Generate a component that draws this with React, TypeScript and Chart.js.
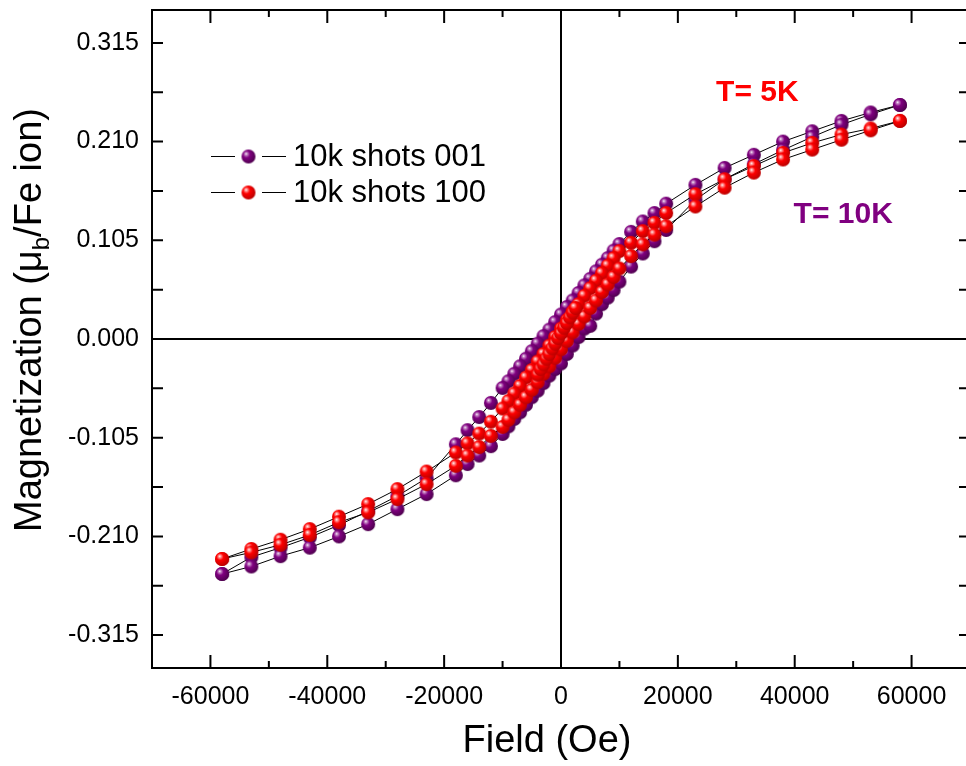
import React, { useEffect, useRef } from 'react';
import { Chart, registerables } from 'chart.js';
Chart.register(...registerables);

// Field sweep (Oe): descending branch, ascending branch, and the dense sweep near zero
const fieldDown = [58000, 53000, 48000, 43000, 38000, 33000, 28000, 23000, 18000, 16000, 14000, 12000, 10000, 9000, 8000, 7000, 6000, 5000, 4000, 3000, 2000, 1000, 0, -1000, -2000, -3000, -4000, -5000, -6000, -7000, -8000, -9000, -10000, -12000, -14000, -16000, -18000, -23000, -28000, -33000, -38000, -43000, -48000, -53000, -58000];
const fieldUp = [-58000, -53000, -48000, -43000, -38000, -33000, -28000, -23000, -18000, -16000, -14000, -12000, -10000, -9000, -8000, -7000, -6000, -5000, -4000, -3000, -2000, -1000, 0, 1000, 2000, 3000, 4000, 5000, 6000, 7000, 8000, 9000, 10000, 12000, 14000, 16000, 18000, 23000, 28000, 33000, 38000, 43000, 48000, 53000, 58000];
const fieldFine = [-4000, -3500, -3000, -2500, -2000, -1500, -1000, -500, 0, 500, 1000, 1500, 2000, 2500];

// 10k shots 001 (purple)
const purpleDown = [0.249, 0.241, 0.232, 0.221, 0.210, 0.196, 0.182, 0.164, 0.144, 0.134, 0.125, 0.114, 0.101, 0.094, 0.086, 0.079, 0.072, 0.064, 0.057, 0.049, 0.041, 0.034, 0.026, 0.018, 0.010, 0.003, -0.005, -0.013, -0.021, -0.029, -0.037, -0.045, -0.052, -0.068, -0.083, -0.097, -0.112, -0.148, -0.167, -0.183, -0.198, -0.211, -0.222, -0.232, -0.250];
const purpleUp = [-0.250, -0.242, -0.231, -0.222, -0.210, -0.197, -0.181, -0.165, -0.145, -0.133, -0.124, -0.114, -0.101, -0.093, -0.085, -0.078, -0.070, -0.062, -0.055, -0.047, -0.039, -0.032, -0.026, -0.016, -0.007, 0.002, 0.011, 0.014, 0.027, 0.037, 0.044, 0.052, 0.061, 0.077, 0.091, 0.104, 0.116, 0.148, 0.170, 0.186, 0.201, 0.215, 0.228, 0.239, 0.249];

// 10k shots 100 (red)
const redDown = [0.232, 0.224, 0.2175, 0.2086, 0.198, 0.184, 0.170, 0.154, 0.134, 0.1236, 0.1147, 0.1023, 0.0935, 0.086, 0.078, 0.070, 0.062, 0.054, 0.046, 0.037, 0.029, 0.020, 0.011, 0.002, -0.007, -0.016, -0.024, -0.033, -0.041, -0.050, -0.058, -0.066, -0.074, -0.088, -0.1006, -0.111, -0.1208, -0.141, -0.1597, -0.1756, -0.189, -0.2022, -0.2135, -0.2234, -0.234];
const redUp = [-0.234, -0.227, -0.2189, -0.2085, -0.195, -0.1845, -0.1703, -0.1544, -0.1349, -0.124, -0.115, -0.103, -0.0935, -0.086, -0.078, -0.070, -0.062, -0.054, -0.046, -0.037, -0.029, -0.020, -0.011, -0.002, 0.007, 0.016, 0.024, 0.033, 0.041, 0.050, 0.058, 0.066, 0.075, 0.0882, 0.1006, 0.111, 0.120, 0.141, 0.161, 0.177, 0.191, 0.2015, 0.212, 0.222, 0.232];
const redFine = [-0.038, -0.032, -0.027, -0.021, -0.016, -0.010, -0.005, 0.001, 0.006, 0.012, 0.017, 0.023, 0.028, 0.033];

const seriesNames = ['10k shots 001', '10k shots 100'];
const xTickValues = [-60000, -40000, -20000, 0, 20000, 40000, 60000];
const xMinorValues = [-70000, -50000, -30000, -10000, 10000, 30000, 50000, 70000];
const yTickValues = [-0.315, -0.21, -0.105, 0, 0.105, 0.21, 0.315];
const yMinorValues = [-0.2625, -0.1575, -0.0525, 0.0525, 0.1575, 0.2625];

const FONT = '"Liberation Sans", Arial, Helvetica, sans-serif';
const PURPLE = '#800080';
const RED = '#ff0000';

function makeSphere(base: string, light: string, dark: string, r: number) {
  const c = document.createElement('canvas');
  const s = Math.ceil(r * 2) + 2;
  c.width = s;
  c.height = s;
  const g = c.getContext('2d')!;
  const cx = s / 2, cy = s / 2;
  const grad = g.createRadialGradient(cx - r * 0.35, cy - r * 0.4, 0, cx - r * 0.2, cy - r * 0.2, r * 1.25);
  grad.addColorStop(0, '#ffffff');
  grad.addColorStop(0.14, light);
  grad.addColorStop(0.4, base);
  grad.addColorStop(1, dark);
  g.fillStyle = grad;
  g.beginPath();
  g.arc(cx, cy, r, 0, Math.PI * 2);
  g.fill();
  return c;
}

function pts(xs: number[], ys: number[]) {
  return xs.map((x, i) => ({ x, y: ys[i] }));
}

export default function App() {
  const ref = useRef<HTMLCanvasElement>(null);
  useEffect(() => {
    const canvas = ref.current!;
    const purpleBall = makeSphere(PURPLE, '#c78ac7', '#4e004e', 7);
    const redBall = makeSphere(RED, '#ff9a9a', '#b80000', 7);

    const framePlugin = {
      id: 'frameDecor',
      beforeDatasetsDraw(chart: any) {
        const { ctx, chartArea, scales } = chart;
        const { left, right, top, bottom } = chartArea;
        const x0 = scales.x.getPixelForValue(0);
        const y0 = scales.y.getPixelForValue(0);
        ctx.save();
        ctx.strokeStyle = '#000';
        ctx.lineWidth = 2;
        ctx.beginPath();
        ctx.moveTo(x0, top);
        ctx.lineTo(x0, bottom);
        ctx.moveTo(left, y0);
        ctx.lineTo(right, y0);
        ctx.stroke();
        ctx.restore();
      },
      afterDraw(chart: any) {
        const { ctx, chartArea, scales } = chart;
        const { left, right, top, bottom } = chartArea;
        ctx.save();
        ctx.strokeStyle = '#000';
        ctx.lineWidth = 2;
        ctx.strokeRect(left, top, right - left, bottom - top);
        ctx.beginPath();
        xTickValues.forEach((v) => {
          const px = scales.x.getPixelForValue(v);
          ctx.moveTo(px, bottom); ctx.lineTo(px, bottom - 13);
          ctx.moveTo(px, top); ctx.lineTo(px, top + 13);
        });
        xMinorValues.forEach((v) => {
          const px = scales.x.getPixelForValue(v);
          ctx.moveTo(px, bottom); ctx.lineTo(px, bottom - 7);
          ctx.moveTo(px, top); ctx.lineTo(px, top + 7);
        });
        yTickValues.concat(yMinorValues).forEach((v) => {
          const py = scales.y.getPixelForValue(v);
          ctx.moveTo(left, py); ctx.lineTo(left + 11, py);
          ctx.moveTo(right, py); ctx.lineTo(right - 11, py);
        });
        ctx.stroke();

        // legend
        const rows = [
          { y: 156, ball: purpleBall, text: seriesNames[0] },
          { y: 192, ball: redBall, text: seriesNames[1] },
        ];
        rows.forEach((r) => {
          ctx.lineWidth = 1;
          ctx.strokeStyle = '#000';
          ctx.beginPath();
          ctx.moveTo(211, r.y + 0.5); ctx.lineTo(235, r.y + 0.5);
          ctx.moveTo(262, r.y + 0.5); ctx.lineTo(286, r.y + 0.5);
          ctx.stroke();
          ctx.drawImage(r.ball, 248.5 - r.ball.width / 2, r.y - r.ball.height / 2 + 0.5);
          ctx.fillStyle = '#000';
          ctx.font = `31px ${FONT}`;
          ctx.textAlign = 'left';
          ctx.textBaseline = 'middle';
          ctx.fillText(r.text, 293, r.y + 1);
        });

        // annotations
        ctx.font = `bold 30px ${FONT}`;
        ctx.textAlign = 'center';
        ctx.textBaseline = 'middle';
        ctx.fillStyle = RED;
        ctx.fillText('T= 5K', scales.x.getPixelForValue(33600), scales.y.getPixelForValue(0.262));
        ctx.fillStyle = PURPLE;
        ctx.fillText('T= 10K', scales.x.getPixelForValue(48300), scales.y.getPixelForValue(0.132));

        // x-axis title
        ctx.fillStyle = '#000';
        ctx.font = `38px ${FONT}`;
        ctx.fillText('Field (Oe)', 547, 742);

        // y-axis title with subscript
        const cy = 320;
        ctx.translate(41, cy);
        ctx.rotate(-Math.PI / 2);
        ctx.textAlign = 'left';
        ctx.textBaseline = 'alphabetic';
        const p1 = 'Magnetization (\u03bc';
        const p2 = 'b';
        const p3 = '/Fe ion)';
        ctx.font = `38px ${FONT}`;
        const w1 = ctx.measureText(p1).width;
        const w3 = ctx.measureText(p3).width;
        ctx.font = `24px ${FONT}`;
        const w2 = ctx.measureText(p2).width;
        const total = w1 + w2 + w3;
        let sx = -total / 2;
        ctx.font = `38px ${FONT}`;
        ctx.fillText(p1, sx, 0);
        sx += w1;
        ctx.font = `24px ${FONT}`;
        ctx.fillText(p2, sx, 8);
        sx += w2;
        ctx.font = `38px ${FONT}`;
        ctx.fillText(p3, sx, 0);
        ctx.restore();
      },
    };

    const tickFont = { family: FONT, size: 25 };
    const gap = [{ x: 0, y: null as any }];
    const chart = new Chart(canvas, {
      type: 'scatter',
      data: {
        datasets: [
          {
            label: seriesNames[0],
            data: pts(fieldDown, purpleDown).concat(pts(fieldUp, purpleUp)),
            showLine: true,
            spanGaps: false,
            borderColor: '#000',
            borderWidth: 1,
            pointStyle: purpleBall as any,
            pointRadius: 7,
            order: 2,
          },
          {
            label: seriesNames[1],
            data: pts(fieldDown, redDown).concat(pts(fieldUp, redUp), gap, pts(fieldFine, redFine)),
            showLine: true,
            spanGaps: false,
            borderColor: '#000',
            borderWidth: 1,
            pointStyle: redBall as any,
            pointRadius: 7,
            order: 1,
          },
        ],
      },
      options: {
        responsive: false,
        animation: false,
        devicePixelRatio: 1,
        layout: { autoPadding: false, padding: { top: 10, right: 2, left: 0, bottom: 0 } },
        plugins: { legend: { display: false }, tooltip: { enabled: false } },
        scales: {
          x: {
            type: 'linear',
            min: -70000,
            max: 70000,
            grid: { display: false, drawTicks: false },
            border: { display: false },
            ticks: {
              font: tickFont,
              color: '#000',
              padding: 14,
              maxRotation: 0,
              autoSkip: false,
              callback: (v: any) => String(v),
            },
            afterBuildTicks: (s: any) => {
              s.ticks = xTickValues.map((v) => ({ value: v }));
            },
            afterFit: (s: any) => {
              s.height = 98;
              s.paddingLeft = 0;
              s.paddingRight = 0;
            },
          },
          y: {
            type: 'linear',
            min: -0.35,
            max: 0.35,
            grid: { display: false, drawTicks: false },
            border: { display: false },
            ticks: {
              font: tickFont,
              color: '#000',
              padding: 13,
              autoSkip: false,
              callback: (v: any) => Number(v).toFixed(3),
            },
            afterBuildTicks: (s: any) => {
              s.ticks = yTickValues.map((v) => ({ value: v }));
            },
            afterFit: (s: any) => {
              s.width = 152;
              s.paddingTop = 0;
              s.paddingBottom = 0;
            },
          },
        },
      },
      plugins: [framePlugin],
    } as any);
    return () => chart.destroy();
  }, []);
  return (
    <div style={{ position: 'absolute', left: 0, top: 0, width: 966, height: 766, overflow: 'hidden', background: '#fff' }}>
      <canvas ref={ref} width={972} height={766} style={{ display: 'block' }} />
    </div>
  );
}
